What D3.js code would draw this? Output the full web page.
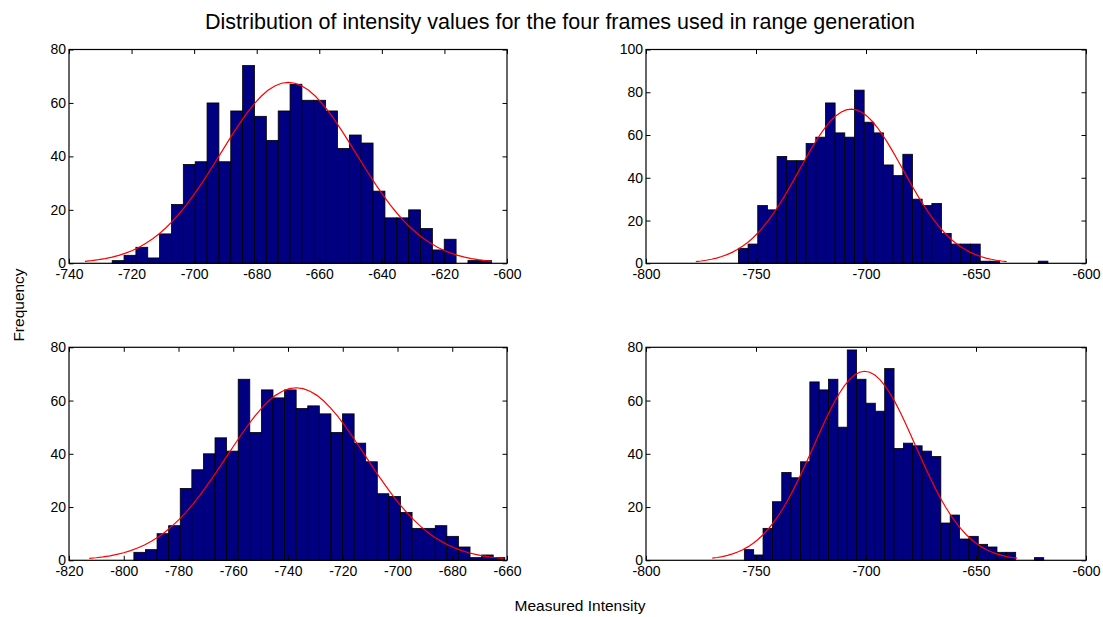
<!DOCTYPE html>
<html>
<head>
<meta charset="utf-8">
<script src="https://cdn.jsdelivr.net/npm/d3@7"></script>
<style>
  html, body { margin: 0; padding: 0; background: #fff; }
  svg { display: block; font-family: "Liberation Sans", Arial, Helvetica, sans-serif; }
  .tick text { font-size: 14px; fill: #000; }
  .tick line { stroke: #000; }
</style>
</head>
<body>
<svg id="chart" width="1103" height="617"></svg>
<script>
// Histogram counts per frame (32 bins each, spanning the frame's min..max intensity)
const counts1 = [1, 3, 6, 2, 11, 22, 37, 38, 60, 38, 57, 74, 55, 46, 57, 67,
                 61, 61, 57, 43, 48, 45, 27, 17, 17, 20, 13, 5, 9, 0, 1, 1];
const counts2 = [7, 9, 27, 25, 50, 48, 48, 56, 59, 75, 61, 59, 81, 66, 61, 46,
                 41, 51, 30, 27, 28, 14, 9, 9, 9, 1, 1, 0, 0, 0, 0, 1];
const counts3 = [3, 4, 10, 13, 27, 34, 40, 46, 41, 68, 48, 64, 61, 64, 57, 58,
                 55, 48, 55, 44, 37, 25, 24, 18, 12, 12, 13, 9, 5, 1, 2, 1];
const counts4 = [4, 2, 12, 22, 33, 31, 37, 67, 64, 68, 50, 79, 68, 59, 56, 72,
                 42, 44, 43, 41, 39, 14, 17, 8, 9, 6, 5, 3, 3, 0, 0, 1];

// Intensity range covered by each frame's histogram
const dataMin = [-726.2, -758.0, -796.3, -755.3];
const dataMax = [-604.9, -617.3, -660.8, -619.2];

// Fitted normal curve for each frame: mean, standard deviation, peak height
const fitMean = [-669.9, -706.7, -737.0, -700.6];
const fitSd   = [21.67, 23.55, 25.2, 23.1];
const fitPeak = [67.7, 72.1, 64.8, 71.0];

// Axis limits and tick labels
const xLimits = [[-740, -600], [-800, -600], [-820, -660], [-800, -600]];
const xTicks1 = [-740, -720, -700, -680, -660, -640, -620, -600];
const xTicks2 = [-800, -750, -700, -650, -600];
const xTicks3 = [-820, -800, -780, -760, -740, -720, -700, -680, -660];
const xTicks4 = [-800, -750, -700, -650, -600];
const yLimits = [80, 100, 80, 80];
const yTicks1 = [0, 20, 40, 60, 80];
const yTicks2 = [0, 20, 40, 60, 80, 100];

const titleText = "Distribution of intensity values for the four frames used in range generation";
const xLabelText = "Measured Intensity";
const yLabelText = "Frequency";

const allCounts = [counts1, counts2, counts3, counts4];
const allXTicks = [xTicks1, xTicks2, xTicks3, xTicks4];
const allYTicks = [yTicks1, yTicks2, yTicks1, yTicks1];

// Subplot boxes (left, top, width, height)
const boxes = [
  { x: 69,  y: 49.5,  w: 438, h: 213.8 },
  { x: 646, y: 49.5,  w: 440, h: 213.8 },
  { x: 69,  y: 347.3, w: 438, h: 213 },
  { x: 646, y: 347.3, w: 440, h: 213 }
];

const svg = d3.select("#chart");
const tickLen = 4.5;

boxes.forEach((b, i) => {
  const g = svg.append("g").attr("transform", `translate(${b.x},${b.y})`);
  const x = d3.scaleLinear().domain(xLimits[i]).range([0, b.w]);
  const y = d3.scaleLinear().domain([0, yLimits[i]]).range([b.h, 0]);

  // Histogram bars
  const counts = allCounts[i];
  const bw = (dataMax[i] - dataMin[i]) / counts.length;
  const bins = counts.map((c, k) => ({ x0: dataMin[i] + k * bw, x1: dataMin[i] + (k + 1) * bw, c }));
  g.append("g").selectAll("rect")
    .data(bins.filter(d => d.c > 0))
    .join("rect")
    .attr("x", d => x(d.x0))
    .attr("width", d => x(d.x1) - x(d.x0))
    .attr("y", d => y(d.c))
    .attr("height", d => y(0) - y(d.c))
    .attr("fill", "#000080")
    .attr("stroke", "#000")
    .attr("stroke-width", 0.8);

  // Normal fit over mean ± 3 sd in 0.1 sd steps
  const mu = fitMean[i], sd = fitSd[i], pk = fitPeak[i];
  const pts = d3.range(-30, 31).map(k => {
    const z = k / 10;
    return [mu + z * sd, pk * Math.exp(-0.5 * z * z)];
  });
  g.append("path")
    .datum(pts)
    .attr("fill", "none")
    .attr("stroke", "#ff0000")
    .attr("stroke-width", 1.2)
    .attr("d", d3.line().x(d => x(d[0])).y(d => y(d[1])));

  // Axes: inward ticks on all four sides, labels on bottom and left
  const fmt = d3.format("d");
  const minus = v => fmt(v).replace("\u2212", "-");
  g.append("g").attr("transform", `translate(0,${b.h})`)
    .call(d3.axisBottom(x).tickValues(allXTicks[i]).tickFormat(minus).tickSizeInner(-tickLen).tickSizeOuter(0).tickPadding(6))
    .call(a => a.select(".domain").remove());
  g.append("g")
    .call(d3.axisTop(x).tickValues(allXTicks[i]).tickFormat("").tickSizeInner(-tickLen).tickSizeOuter(0))
    .call(a => a.select(".domain").remove());
  g.append("g")
    .call(d3.axisLeft(y).tickValues(allYTicks[i]).tickFormat(fmt).tickSizeInner(-tickLen).tickSizeOuter(0).tickPadding(3))
    .call(a => a.select(".domain").remove());
  g.append("g").attr("transform", `translate(${b.w},0)`)
    .call(d3.axisRight(y).tickValues(allYTicks[i]).tickFormat("").tickSizeInner(-tickLen).tickSizeOuter(0))
    .call(a => a.select(".domain").remove());

  g.selectAll(".tick text").attr("font-size", 14).attr("font-family", null);

  // Axes box
  g.append("rect")
    .attr("width", b.w).attr("height", b.h)
    .attr("fill", "none").attr("stroke", "#000").attr("stroke-width", 1.2);
});

// Figure title and shared axis labels
svg.append("text")
  .attr("x", 560).attr("y", 29)
  .attr("text-anchor", "middle")
  .attr("font-size", 21.5)
  .text(titleText);

svg.append("text")
  .attr("x", 580).attr("y", 611)
  .attr("text-anchor", "middle")
  .attr("font-size", 15.5)
  .text(xLabelText);

svg.append("text")
  .attr("transform", "translate(24,305) rotate(-90)")
  .attr("text-anchor", "middle")
  .attr("font-size", 15.5)
  .text(yLabelText);
</script>
</body>
</html>
